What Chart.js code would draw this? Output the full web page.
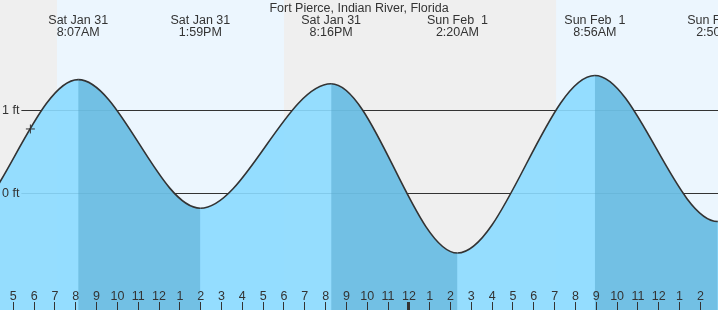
<!DOCTYPE html>
<html>
<head>
<meta charset="utf-8">
<title>Fort Pierce tide</title>
<script src="https://cdn.jsdelivr.net/npm/chart.js@4.4.1/dist/chart.umd.min.js"></script>
<style>
  body { margin: 0; background: #efefef; }
  canvas { display: block; }
</style>
</head>
<body>
<canvas id="tideChart" width="718" height="310"></canvas>
<script>
// hours counted from midnight, Sat Jan 31
const tideHours = [-4.2, 2.0, 8.117, 13.983, 20.267, 26.333, 32.933, 38.833, 45.0];
const tideFeet = [1.30, -0.48, 1.37, -0.18, 1.32, -0.72, 1.42, -0.34, 1.30];

const eventHours = [8.117, 13.983, 20.267, 26.333, 32.933, 38.833];
const eventDays = ["Sat Jan 31", "Sat Jan 31", "Sat Jan 31", "Sun Feb  1", "Sun Feb  1", "Sun Feb  1"];
const eventClock = ["8:07AM", "1:59PM", "8:16PM", "2:20AM", "8:56AM", "2:50PM"];

const daylight = [[7.1, 18.0], [31.07, 42.1]];
const nowHour = 5.82;
const nowFeet = 0.775;
const feetTicks = [0, 1];

const viewStart = 4.361;
const viewEnd = 38.847;
const feetMin = -1.406;
const feetMax = 2.136;

const nightColor = "#efefef";
const dayColor = "#ecf6fe";
const waterColor = "rgba(139, 218, 255, 0.9)";
const ebbShade = "rgba(79, 163, 201, 0.5)";
const ink = "#333333";

Chart.defaults.font.family = '"Liberation Sans", Arial, sans-serif';
Chart.defaults.font.size = 12.5;
Chart.defaults.color = ink;

// gray night, pale blue daylight
const dayNight = {
    id: "dayNight",
    beforeDraw(chart) {
        const ctx = chart.ctx;
        const x = chart.scales.x;
        ctx.save();
        ctx.fillStyle = nightColor;
        ctx.fillRect(0, 0, chart.width, chart.height);
        ctx.fillStyle = dayColor;
        daylight.forEach(function (d) {
            const x0 = x.getPixelForValue(d[0]);
            const x1 = x.getPixelForValue(d[1]);
            ctx.fillRect(x0, 0, x1 - x0, chart.height);
        });
        ctx.restore();
    }
};

function noPad(scale) {
    scale.paddingLeft = 0;
    scale.paddingRight = 0;
    scale.paddingTop = 0;
    scale.paddingBottom = 0;
}

function hourLabel(v) {
    const h = ((v % 12) + 12) % 12;
    return h === 0 ? "12" : String(h);
}

function wholeHours(s) {
    const t = [];
    for (let h = Math.ceil(s.min); h <= Math.floor(s.max); h++) t.push({ value: h });
    s.ticks = t;
}

const tidePoints = tideHours.map((h, i) => ({ x: h, y: tideFeet[i] }));

new Chart(document.getElementById("tideChart"), {
    type: "line",
    data: {
        datasets: [{
            data: [{ x: nowHour, y: nowFeet }],
            showLine: false,
            pointStyle: "cross",
            pointRadius: 4.5,
            pointBorderColor: ink,
            pointBorderWidth: 1,
            fill: false,
            order: 0
        }, {
            // curve, with the falling stretches shaded darker
            data: tidePoints,
            borderColor: ink,
            borderWidth: 1.6,
            pointRadius: 0,
            cubicInterpolationMode: "monotone",
            fill: "start",
            backgroundColor: "rgba(0,0,0,0)",
            segment: {
                backgroundColor: c => c.p1.parsed.y < c.p0.parsed.y ? ebbShade : "rgba(0,0,0,0)"
            },
            order: 1
        }, {
            data: tidePoints,
            borderWidth: 0,
            borderColor: "rgba(0,0,0,0)",
            pointRadius: 0,
            cubicInterpolationMode: "monotone",
            fill: "start",
            backgroundColor: waterColor,
            order: 2
        }]
    },
    options: {
        responsive: false,
        animation: false,
        events: [],
        layout: { padding: 0, autoPadding: false },
        plugins: {
            legend: { display: false },
            tooltip: { enabled: false },
            title: {
                display: true,
                text: "Fort Pierce, Indian River, Florida",
                color: ink,
                font: { size: 12.5, weight: "normal", lineHeight: 1.2 },
                padding: { top: 1, bottom: 0 }
            }
        },
        scales: {
            x: {
                type: "linear",
                axis: "x",
                min: viewStart,
                max: viewEnd,
                position: { y: -1.31 },
                afterFit: noPad,
                afterBuildTicks: wholeHours,
                border: { display: false },
                grid: {
                    drawOnChartArea: false,
                    drawTicks: true,
                    tickLength: 8,
                    color: ink,
                    lineWidth: c => (c.tick && c.tick.value % 24 === 0) ? 3 : 1,
                    z: 1
                },
                ticks: {
                    autoSkip: false,
                    maxRotation: 0,
                    mirror: true,
                    padding: -6,
                    color: ink,
                    z: 1,
                    callback: v => hourLabel(v)
                }
            },
            xTop: {
                type: "linear",
                axis: "x",
                min: viewStart,
                max: viewEnd,
                position: { y: feetMax },
                afterFit: noPad,
                afterBuildTicks: s => { s.ticks = eventHours.map(v => ({ value: v })); },
                border: { display: false },
                grid: { display: false, drawTicks: false },
                ticks: {
                    autoSkip: false,
                    maxRotation: 0,
                    padding: -1,
                    color: ink,
                    font: { lineHeight: "12px" },
                    callback: (v, i) => [eventDays[i], eventClock[i]]
                }
            },
            y: {
                type: "linear",
                axis: "y",
                position: "left",
                min: feetMin,
                max: feetMax,
                afterFit: s => { s.width = 0; noPad(s); },
                afterBuildTicks: s => { s.ticks = feetTicks.map(v => ({ value: v })); },
                border: { display: false },
                grid: { color: ink, lineWidth: 1, drawTicks: false },
                ticks: {
                    mirror: true,
                    padding: 2,
                    color: "rgba(0,0,0,0)",
                    showLabelBackdrop: true,
                    backdropColor: nightColor,
                    backdropPadding: 2,
                    callback: v => v + " ft"
                }
            },
            yLabels: {
                type: "linear",
                axis: "y",
                position: "left",
                min: feetMin,
                max: feetMax,
                afterFit: s => { s.width = 0; noPad(s); },
                afterBuildTicks: s => { s.ticks = feetTicks.map(v => ({ value: v })); },
                border: { display: false },
                grid: { display: false, drawTicks: false },
                ticks: {
                    mirror: true,
                    padding: 2,
                    color: ink,
                    z: 1,
                    callback: v => v + " ft"
                }
            }
        }
    },
    plugins: [dayNight]
});
</script>
</body>
</html>
